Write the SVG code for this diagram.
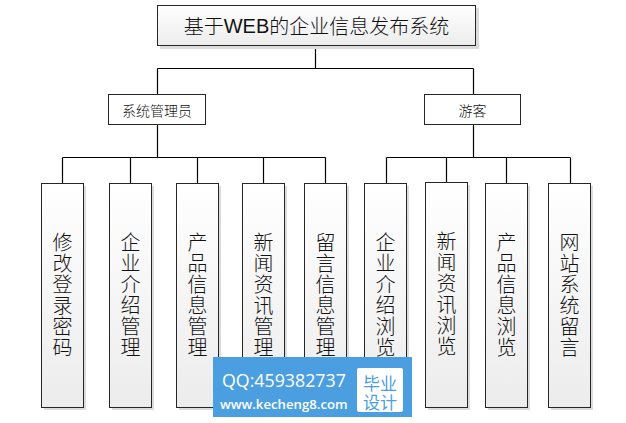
<svg xmlns="http://www.w3.org/2000/svg" width="626" height="423" viewBox="0 0 626 423">
<defs>
<linearGradient id="g" x1="0" y1="0" x2="0" y2="1">
<stop offset="0" stop-color="#ffffff"/>
<stop offset="1" stop-color="#ececec"/>
</linearGradient>
<style>
.box{fill:url(#g);stroke:#262626;stroke-width:1}
.sh{fill:#dcdcdc}
.plain{fill:#ffffff;stroke:#262626;stroke-width:1}
.ln{stroke:#000;stroke-width:1.2;fill:none}
.t{font-family:"Noto Sans CJK SC","Liberation Sans",sans-serif;fill:#111;font-weight:300}
.v{font-size:20px;text-anchor:middle;writing-mode:vertical-rl;letter-spacing:1px}
</style>
</defs>
<rect width="626" height="423" fill="#ffffff"/>
<g id="connectors">
<path class="ln" d="M315.5 45V68.5M157.5 68.5H473.5M157.5 68.5V94M473.5 68.5V94"/>
<path class="ln" d="M157.5 124V157.5M62.5 157.5H325.5M62.5 157.5V183M130.5 157.5V183M197.5 157.5V183M263.5 157.5V183M325.5 157.5V183"/>
<path class="ln" d="M473.5 124V157.5M386.5 157.5H570.5M386.5 157.5V183M446.5 157.5V182M506.5 157.5V183M570.5 157.5V183"/>
</g>
<g id="title">
<rect class="sh" x="160" y="8" width="319" height="41"/>
<rect class="box" x="157.5" y="5.5" width="318" height="40"/>
<text class="t" x="316.5" y="25.5" font-size="20" text-anchor="middle" dominant-baseline="central">基于<tspan font-family="Liberation Sans" font-weight="400">WEB</tspan>的企业信息发布系统</text>
</g>
<g id="admin">
<rect class="plain" x="108.5" y="94.5" width="97" height="30"/>
<text class="t" x="157" y="109.5" font-size="14" text-anchor="middle" dominant-baseline="central">系统管理员</text>
</g>
<g id="guest">
<rect class="plain" x="424.5" y="94.5" width="96" height="30"/>
<text class="t" x="472.5" y="109.5" font-size="14" text-anchor="middle" dominant-baseline="central">游客</text>
</g>
<g id="n1">
<rect class="sh" x="44" y="186" width="42" height="224"/>
<rect class="box" x="41.5" y="183.5" width="42" height="224"/>
<text class="t v" x="62.5" y="295.5">修改登录密码</text>
</g>
<g id="n2">
<rect class="sh" x="112" y="186" width="42" height="224"/>
<rect class="box" x="109.5" y="183.5" width="42" height="224"/>
<text class="t v" x="130.5" y="295.5">企业介绍管理</text>
</g>
<g id="n3">
<rect class="sh" x="179" y="186" width="42" height="224"/>
<rect class="box" x="176.5" y="183.5" width="42" height="224"/>
<text class="t v" x="197.5" y="295.5">产品信息管理</text>
</g>
<g id="n4">
<rect class="sh" x="245" y="186" width="42" height="224"/>
<rect class="box" x="242.5" y="183.5" width="42" height="224"/>
<text class="t v" x="263.5" y="295.5">新闻资讯管理</text>
</g>
<g id="n5">
<rect class="sh" x="307" y="186" width="42" height="224"/>
<rect class="box" x="304.5" y="183.5" width="42" height="224"/>
<text class="t v" x="325.5" y="295.5">留言信息管理</text>
</g>
<g id="n6">
<rect class="sh" x="367" y="186" width="42" height="224"/>
<rect class="box" x="364.5" y="183.5" width="42" height="224"/>
<text class="t v" x="385.5" y="295.5">企业介绍浏览</text>
</g>
<g id="n7">
<rect class="sh" x="428" y="185" width="42" height="225"/>
<rect class="box" x="425.5" y="182.5" width="42" height="225"/>
<text class="t v" x="446.5" y="294.5">新闻资讯浏览</text>
</g>
<g id="n8">
<rect class="sh" x="488" y="186" width="42" height="224"/>
<rect class="box" x="485.5" y="183.5" width="42" height="224"/>
<text class="t v" x="506.5" y="295.5">产品信息浏览</text>
</g>
<g id="n9">
<rect class="sh" x="551" y="186" width="42" height="224"/>
<rect class="box" x="548.5" y="183.5" width="42" height="224"/>
<text class="t v" x="569.5" y="295.5">网站系统留言</text>
</g>
<g id="watermark">
<rect x="213" y="357" width="199" height="60" fill="#4b9fe1"/>
<text x="222" y="387" font-family="'Open Sans','Liberation Sans',sans-serif" font-size="17.8" fill="#ffffff">QQ:459382737</text>
<text x="220" y="409" font-family="'Open Sans','Liberation Sans',sans-serif" font-size="13.2" font-weight="600" fill="#ffffff">www.kecheng8.com</text>
<rect x="357" y="368" width="46" height="44" rx="2" fill="#ffffff"/>
<text x="380" y="382" font-family="'Noto Sans CJK SC',sans-serif" font-size="17" fill="#4b9fe1" text-anchor="middle" dominant-baseline="central">毕业</text>
<text x="380" y="401" font-family="'Noto Sans CJK SC',sans-serif" font-size="17" fill="#4b9fe1" text-anchor="middle" dominant-baseline="central">设计</text>
</g>
</svg>
